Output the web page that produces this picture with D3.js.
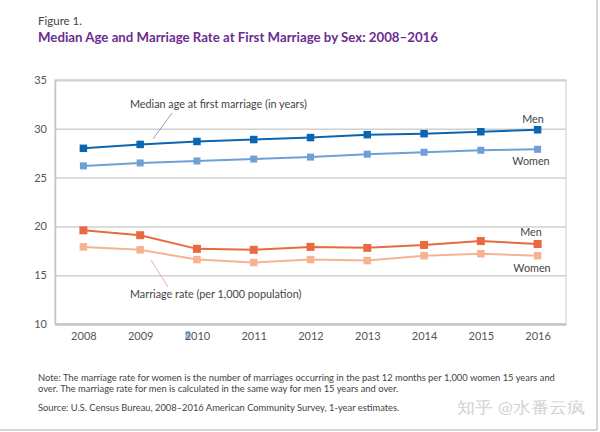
<!DOCTYPE html>
<html><head><meta charset="utf-8">
<script src="https://cdn.jsdelivr.net/npm/d3@7"></script>
<style>
body{margin:0;background:#fff;}
text{font-family:Lato,"Open Sans",sans-serif;}
</style></head>
<body><svg id="c" width="600" height="432"></svg>
<script>
const years = [2008,2009,2010,2011,2012,2013,2014,2015,2016];
const menAge = [28.0,28.4,28.7,28.9,29.1,29.4,29.5,29.7,29.9];
const womenAge = [26.2,26.5,26.7,26.9,27.1,27.4,27.6,27.8,27.9];
const menRate = [19.6,19.1,17.7,17.6,17.9,17.8,18.1,18.5,18.2];
const womenRate = [17.9,17.6,16.6,16.3,16.6,16.5,17.0,17.2,17.0];
const yTicks = [10,15,20,25,30,35];

const svg = d3.select("#c");
const L=55,R=566,T=80,B=324;
const x = d3.scalePoint().domain(years).range([L,R]).padding(0.5);
const y = d3.scaleLinear().domain([10,35]).range([B,T]);

// outer page border
svg.append("line").attr("x1",597).attr("x2",597).attr("y1",0).attr("y2",430).attr("stroke","#c8c8c8").attr("stroke-width",1.5);
svg.append("line").attr("x1",0).attr("x2",597).attr("y1",430).attr("y2",430).attr("stroke","#c8c8c8").attr("stroke-width",1.5);

// titles
svg.append("text").attr("x",38).attr("y",25).attr("font-size",11.5).attr("fill","#444").text("Figure 1.");
svg.append("text").attr("x",38).attr("y",42).attr("font-size",12.5).attr("font-weight","bold").attr("fill","#6b2d8f")
  .attr("textLength",400).attr("lengthAdjust","spacingAndGlyphs")
  .text("Median Age and Marriage Rate at First Marriage by Sex: 2008–2016");

// plot frame and gridlines
svg.append("rect").attr("x",L).attr("y",T).attr("width",R-L).attr("height",B-T).attr("fill","none").attr("stroke","#d4d4d4").attr("stroke-width",1.2);
const yAxis = d3.axisLeft(y).tickValues(yTicks).tickSize(-(R-L)).tickPadding(8);
const gy = svg.append("g").attr("transform",`translate(${L},0)`).call(yAxis);
gy.select(".domain").attr("stroke","#c4c4c4").attr("stroke-width",1.5);
gy.selectAll(".tick line").attr("stroke","#d0d0d0").attr("stroke-width",1.5);
gy.selectAll(".tick text").attr("font-size",11).attr("fill","#555").attr("font-family","Lato,sans-serif");

const xAxis = d3.axisBottom(x).tickSize(0).tickPadding(8);
const gx = svg.append("g").attr("transform",`translate(0,${B})`).call(xAxis);
gx.select(".domain").attr("stroke","#c4c4c4").attr("stroke-width",2);
gx.selectAll(".tick text").attr("font-size",11).attr("fill","#555").attr("font-family","Lato,sans-serif");

// stray blue mark on 2010 label
svg.append("rect").attr("x",x(2010)-11.5).attr("y",B+7).attr("width",5).attr("height",8).attr("fill","#4a86c8").attr("opacity",0.55);

// leader lines
svg.append("line").attr("x1",172).attr("y1",113).attr("x2",153).attr("y2",139).attr("stroke","#7a8a9a").attr("stroke-width",0.8);
svg.append("line").attr("x1",151).attr("y1",260).attr("x2",168).attr("y2",287).attr("stroke","#e0a08a").attr("stroke-width",0.8);

const series = [
  {v:womenAge,c:"#6f9fd6",s:7},
  {v:menAge,c:"#0b66b2",s:7.5},
  {v:womenRate,c:"#f5b394",s:7.5},
  {v:menRate,c:"#ea6a40",s:8}
];
const line = d3.line().x((d,i)=>x(years[i])).y(d=>y(d));
series.forEach(s=>{
  svg.append("path").datum(s.v).attr("d",line).attr("fill","none").attr("stroke",s.c).attr("stroke-width",2);
  svg.selectAll(null).data(s.v).enter().append("rect")
    .attr("x",(d,i)=>x(years[i])-s.s/2).attr("y",d=>y(d)-s.s/2)
    .attr("width",s.s).attr("height",s.s).attr("fill",s.c);
});

// annotations
const ann = (t,xx,yy,anchor)=>svg.append("text").attr("x",xx).attr("y",yy).attr("font-size",10.8).attr("fill","#444").attr("text-anchor",anchor||"start").text(t);
ann("Median age at first marriage (in years)",130,108);
ann("Marriage rate (per 1,000 population)",130,298);
ann("Men",533,123,"middle");
ann("Women",531,165,"middle");
ann("Men",531,236,"middle");
ann("Women",532,272,"middle");

// notes
const note = (t,yy)=>svg.append("text").attr("x",38).attr("y",yy).attr("font-size",9.35).attr("fill","#444").text(t);
note("Note: The marriage rate for women is the number of marriages occurring in the past 12 months per 1,000 women 15 years and",381);
note("over. The marriage rate for men is calculated in the same way for men 15 years and over.",392);
note("Source: U.S. Census Bureau, 2008–2016 American Community Survey, 1-year estimates.",411);

// watermark
svg.append("text").attr("x",457).attr("y",413).attr("font-size",16).attr("fill","#d2d2d2")
  .attr("font-family","'Noto Sans CJK SC',sans-serif").attr("textLength",128).attr("lengthAdjust","spacingAndGlyphs")
  .text("知乎 @水番云疯");
</script></body></html>
